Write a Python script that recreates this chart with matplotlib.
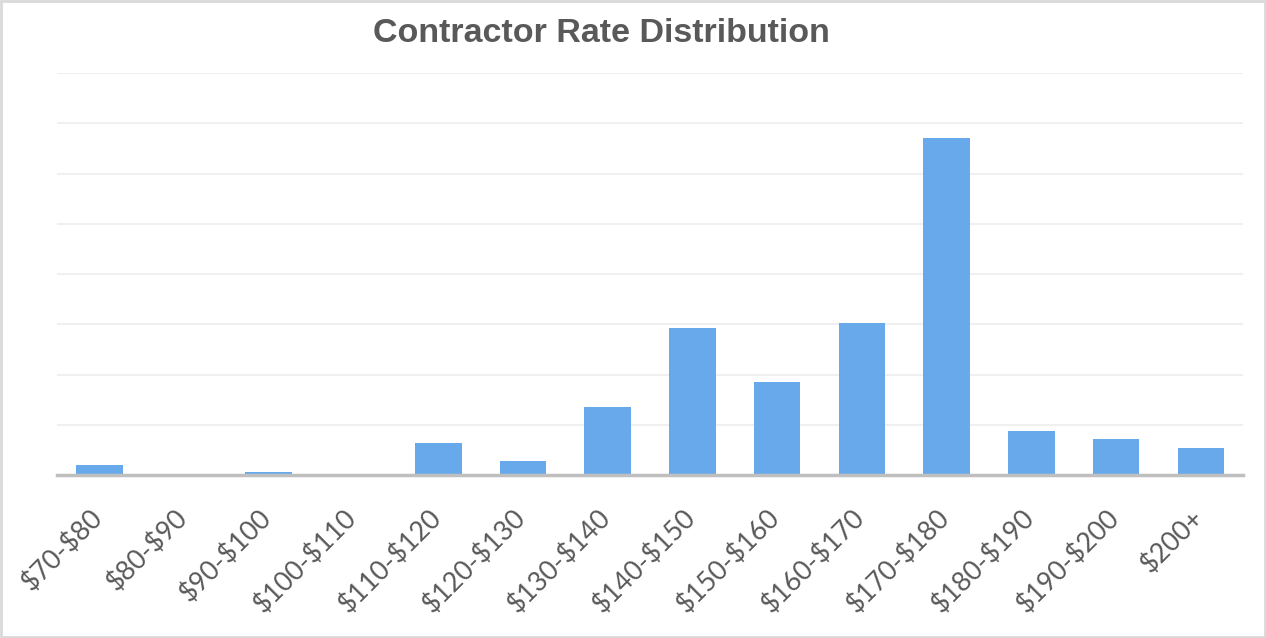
import matplotlib
matplotlib.use('Agg')
import matplotlib.pyplot as plt
import matplotlib.transforms as mtransforms
from matplotlib.patches import Rectangle

plt.rcParams['text.parse_math'] = False

categories = ['$70-$80', '$80-$90', '$90-$100', '$100-$110', '$110-$120', '$120-$130',
              '$130-$140', '$140-$150', '$150-$160', '$160-$170', '$170-$180',
              '$180-$190', '$190-$200', '$200+']
counts = [10, 0, 3, 0, 32, 14, 68, 146, 93, 151, 335, 44, 36, 27]

fig = plt.figure(figsize=(12.66, 6.38), dpi=100)
ax = fig.add_axes([0.045, 0.2555, 0.937, 0.630])

x = range(len(categories))
ax.bar(x, counts, width=0.55, color='#68a9eb', zorder=3)

ax.set_xlim(-0.5, len(categories) - 0.5)
ax.set_ylim(0, 400)
ax.set_yticks(range(0, 401, 50))
ax.yaxis.grid(True, color='#f0f0f0', linewidth=1.5, zorder=0)
ax.tick_params(axis='y', left=False, labelleft=False)
ax.tick_params(axis='x', bottom=False, pad=18)

for s in ['top', 'right', 'left']:
    ax.spines[s].set_visible(False)
ax.spines['bottom'].set_color('#bfbfbf')
ax.spines['bottom'].set_linewidth(2.5)
ax.spines['bottom'].set_zorder(4)

ax.set_xticks(list(x))
ax.set_xticklabels(categories, rotation=45, ha='right', rotation_mode='anchor',
                   fontsize=19.3, color='#595959', family=['Lato', 'DejaVu Sans'])
shift = mtransforms.ScaledTranslation(-0.10, 0, fig.dpi_scale_trans)
for lbl in ax.get_xticklabels():
    lbl.set_transform(lbl.get_transform() + shift)

fig.text(0.475, 0.947, 'Contractor Rate Distribution', ha='center', va='center',
         fontsize=24.5, fontweight='bold', color='#595959',
         family=['Liberation Sans', 'DejaVu Sans'])

fig.patches.append(Rectangle((0.001, 0.002), 0.998, 0.996, transform=fig.transFigure,
                             fill=False, edgecolor='#d9d9d9', linewidth=2))

fig.savefig('out.png', dpi=100)
